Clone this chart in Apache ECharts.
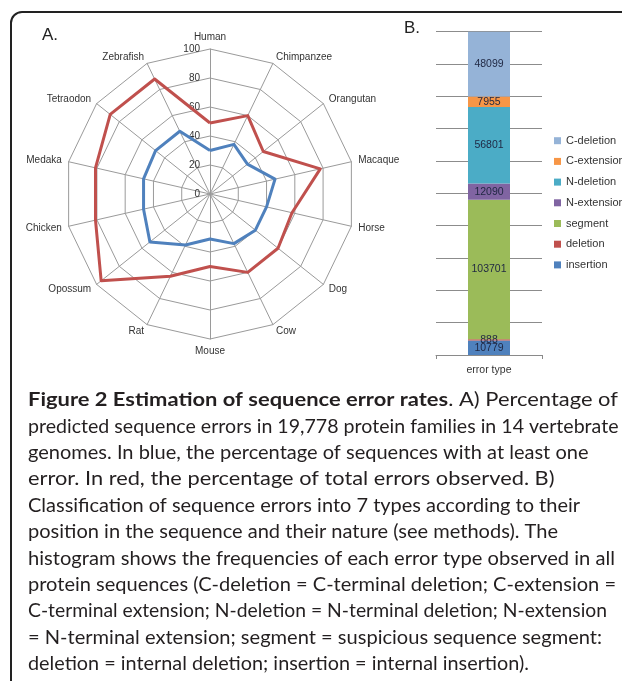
<!DOCTYPE html>
<html>
<head>
<meta charset="utf-8">
<script src="https://cdn.jsdelivr.net/npm/echarts@6/dist/echarts.min.js"></script>
<style>
  html, body { margin: 0; padding: 0; background: #fff; }
  #chart { width: 622px; height: 681px; }
</style>
</head>
<body>
<div id="chart"></div>
<script>
// Panel A: percentage of predicted sequence errors per genome (clockwise from Human)
const species = ['Human', 'Chimpanzee', 'Orangutan', 'Macaque', 'Horse', 'Dog', 'Cow',
                 'Mouse', 'Rat', 'Opossum', 'Chicken', 'Medaka', 'Tetraodon', 'Zebrafish'];
const seqWithError = [30, 38, 33, 46, 40, 40, 38, 31, 39, 53, 47, 47, 48, 48];
const totalErrors  = [49, 60, 47, 78, 58, 60, 60, 50, 63, 96, 81, 81, 88, 88];
const radarMax = 100;
const radarSteps = 5;

// Panel B: error type frequencies (bottom to top of the stacked column)
const errorTypes  = ['insertion', 'deletion', 'segment', 'N-extension', 'N-deletion', 'C-extension', 'C-deletion'];
const errorCounts = [10779, 888, 103701, 12090, 56801, 7955, 48099];
const errorColors = ['#4F81BD', '#C0504D', '#9BBB59', '#8064A2', '#4BACC6', '#F79646', '#95B3D7'];
const barCategory = ['error type'];

// Figure legend text, one entry per printed line
const captionBold = 'Figure 2 Estimation of sequence error rates';
const captionLines = [
  '. A) Percentage of',
  'predicted sequence errors in 19,778 protein families in 14 vertebrate',
  'genomes. In blue, the percentage of sequences with at least one',
  'error. In red, the percentage of total errors observed. B)',
  'Classification of sequence errors into 7 types according to their',
  'position in the sequence and their nature (see methods). The',
  'histogram shows the frequencies of each error type observed in all',
  'protein sequences (C-deletion = C-terminal deletion; C-extension =',
  'C-terminal extension; N-deletion = N-terminal deletion; N-extension',
  '= N-terminal extension; segment = suspicious sequence segment:',
  'deletion = internal deletion; insertion = internal insertion).'
];
// right edge of each printed line
const captionLineEnds = [618, 618.5, 588.5, 554.5, 580, 558, 615, 616, 607, 602, 529];

const chart = echarts.init(document.getElementById('chart'), null, { renderer: 'canvas' });

// ECharts lays radar indicators out counter-clockwise; reorder so species run clockwise.
const n = species.length;
const order = species.map((_, k) => (n - k) % n);
const indicators = order.map((i, k) => {
  const ind = { name: species[i], max: radarMax, min: 0 };
  if (k === 0) {
    ind.axisLabel = {
      show: true, fontSize: 10, color: '#333', margin: 10,
      fontFamily: 'Liberation Sans'
    };
  }
  return ind;
});
const reorder = arr => order.map(i => arr[i]);

const total = errorCounts.reduce((a, b) => a + b, 0);

// caption layout with per-line fit to the printed width
const capFont = 'Lato';
const capSize = 19.5;
const capX = 28, capY0 = 400, capStep = 26.4;
const ctx = document.createElement('canvas').getContext('2d');
function measure(text, weight) {
  ctx.font = (weight || 'normal') + ' ' + capSize + 'px ' + capFont;
  return ctx.measureText(text).width;
}
const captionGraphics = captionLines.map((line, i) => {
  let w = measure(line);
  let text = line;
  const rich = {};
  if (i === 0) {
    w += measure(captionBold, 'bold');
    text = '{b|' + captionBold + '}' + line;
    rich.b = { fontWeight: 'bold', fontSize: capSize, fontFamily: capFont, fill: '#231f20' };
  }
  const target = captionLineEnds[i] - capX;
  return {
    type: 'text',
    x: capX,
    y: capY0 + capStep * i,
    scaleX: target / w,
    silent: true,
    style: {
      text: text, rich: rich,
      fontSize: capSize, fontFamily: capFont, fill: '#231f20',
      align: 'left', verticalAlign: 'middle'
    }
  };
});

const barSeries = errorTypes.map((name, i) => ({
  name: name,
  type: 'bar',
  stack: 'errors',
  barWidth: 42,
  data: [errorCounts[i]],
  itemStyle: { color: errorColors[i] },
  label: {
    show: true, position: 'inside',
    fontSize: 10.5, color: '#1f2742', fontFamily: 'Liberation Sans'
  },
  emphasis: { disabled: true }
}));

chart.setOption({
  animation: false,
  backgroundColor: '#ffffff',
  radar: {
    center: [210, 194],
    radius: 145,
    startAngle: 90,
    shape: 'polygon',
    splitNumber: radarSteps,
    indicator: indicators,
    axisName: { color: '#333', fontSize: 10, fontFamily: 'Liberation Sans' },
    nameGap: 7,
    axisLine: { lineStyle: { color: '#9a9a9a', width: 1 } },
    splitLine: { lineStyle: { color: '#9a9a9a', width: 1 } },
    splitArea: { show: false },
    axisTick: { show: false },
    axisLabel: { show: false }
  },
  grid: { left: 436, top: 31.7, width: 106, height: 323.3 },
  xAxis: {
    type: 'category',
    data: barCategory,
    axisLine: { lineStyle: { color: '#8a8a8a', width: 1 } },
    axisTick: { show: true, length: 4, lineStyle: { color: '#8a8a8a' } },
    axisLabel: { margin: 10, fontSize: 10.5, color: '#333', fontFamily: 'Liberation Sans' }
  },
  yAxis: {
    type: 'value',
    min: 0,
    max: total,
    interval: total / 10,
    axisLine: { show: false },
    axisTick: { show: false },
    axisLabel: { show: false },
    splitLine: { lineStyle: { color: '#8c8c8c', width: 1 } }
  },
  legend: {
    orient: 'vertical',
    left: 554,
    top: 134.7,
    padding: 0,
    data: errorTypes.slice().reverse(),
    icon: 'rect',
    itemWidth: 7,
    itemHeight: 7,
    itemGap: 8.7,
    selectedMode: false,
    textStyle: { fontSize: 11, color: '#333', lineHeight: 12, fontFamily: 'Liberation Sans' }
  },
  series: [
    {
      type: 'radar',
      symbol: 'none',
      silent: true,
      data: [
        { name: 'total errors', value: reorder(totalErrors),
          lineStyle: { color: '#C0504D', width: 3 }, itemStyle: { color: '#C0504D' } },
        { name: 'sequences with error', value: reorder(seqWithError),
          lineStyle: { color: '#4F81BD', width: 3 }, itemStyle: { color: '#4F81BD' } }
      ]
    }
  ].concat(barSeries),
  graphic: [
    {
      type: 'rect', silent: true,
      shape: { x: 11, y: 12, width: 800, height: 900, r: [11, 0, 0, 0] },
      style: { stroke: '#222', lineWidth: 2, fill: 'none' }
    },
    { type: 'text', x: 42, y: 35, silent: true,
      style: { text: 'A.', fontSize: 17, fontFamily: 'Liberation Sans', fill: '#222', verticalAlign: 'middle' } },
    { type: 'text', x: 404, y: 28, silent: true,
      style: { text: 'B.', fontSize: 17, fontFamily: 'Liberation Sans', fill: '#222', verticalAlign: 'middle' } }
  ].concat(captionGraphics)
});
</script>
</body>
</html>
